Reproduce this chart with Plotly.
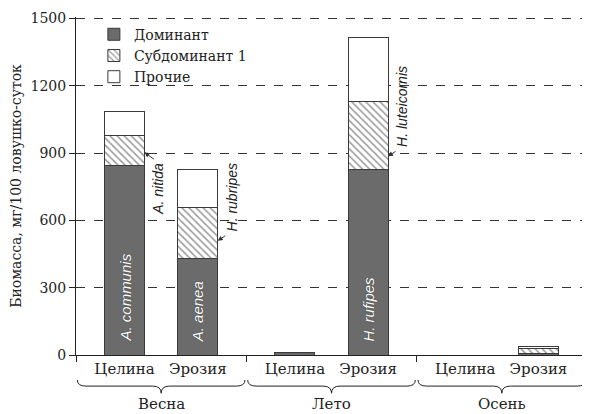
import plotly.graph_objects as go

# ---- data ----
seasons = ["Весна", "Лето", "Осень"]
sites = ["Целина", "Эрозия"]
dominant = [845, 430, 12, 828, 0, 8]
subdominant = [133, 227, 0, 300, 0, 22]
others = [107, 168, 0, 288, 0, 10]
dominant_species = ["A. communis", "A. aenea", "", "H. rufipes", "", ""]
subdominant_species = ["A. nitida", "H. rubripes", "", "H. luteicornis", "", ""]
subdominant_arrow_y = [903, 509, None, 885, None, None]
legend_names = ["Доминант", "Субдоминант 1", "Прочие"]
y_ticks = [0, 300, 600, 900, 1200, 1500]

# ---- style ----
SERIF = "DejaVu Serif, serif"
SANS = "Liberation Sans, Arial, sans-serif"
offsets = [0.285, 0.715]
bar_w = 0.234
edge = dict(color="#3a3a3a", width=1)
INK = "#222222"

xpos = [s + offsets[j] for s in range(len(seasons)) for j in range(len(sites))]
xlabels = [sites[j] for s in range(len(seasons)) for j in range(len(sites))]

fig = go.Figure()
fig.add_bar(x=xpos, y=dominant, width=bar_w, name=legend_names[0],
            marker=dict(color="#6b6b6b", line=edge))
fig.add_bar(x=xpos, y=subdominant, width=bar_w, name=legend_names[1],
            marker=dict(color="white", line=edge,
                        pattern=dict(shape="\\", fgcolor="#333333", bgcolor="white",
                                     size=5, solidity=0.3)))
fig.add_bar(x=xpos, y=others, width=bar_w, name=legend_names[2],
            marker=dict(color="white", line=edge))

# dominant species names inside bars
for i, name in enumerate(dominant_species):
    if name:
        fig.add_annotation(x=xpos[i], y=0, xref="x", yref="y", yanchor="bottom",
                           yshift=11, text=name, textangle=-90, showarrow=False,
                           font=dict(family=SANS, size=15, color="white", style="italic",
                                     shadow="0px 0px 1px #222222"))

# subdominant species names with arrows
for i, name in enumerate(subdominant_species):
    if not name:
        continue
    right = xpos[i] + bar_w / 2
    ya = subdominant_arrow_y[i]
    above = i != 0
    fig.add_annotation(x=right, y=ya, xref="x", yref="y", text="", showarrow=True,
                       ax=9 if above else 11, ay=-6 if above else 8,
                       arrowhead=2, arrowsize=1, arrowwidth=1, arrowcolor="#333333")
    fig.add_annotation(x=right, y=ya, xref="x", yref="y", xshift=14,
                       yshift=7 if above else -8,
                       yanchor="bottom" if above else "top",
                       text=name, textangle=-90, showarrow=False,
                       font=dict(family=SANS, size=14, color=INK, style="italic"))

# group braces and labels
r = 0.05
for g, season in enumerate(seasons):
    x0, x1, xc = g + 0.008, g + 0.992, g + 0.5
    yt, ym, yb = -0.074, -0.092, -0.113
    path = (f"M {x0},{yt} Q {x0},{ym} {x0 + r},{ym} L {xc - r},{ym} "
            f"Q {xc},{ym} {xc},{yb} Q {xc},{ym} {xc + r},{ym} "
            f"L {x1 - r},{ym} Q {x1},{ym} {x1},{yt}")
    fig.add_shape(type="path", path=path, xref="x", yref="paper",
                  line=dict(color=INK, width=1))
    fig.add_annotation(x=xc, y=-0.145, xref="x", yref="paper", text=season,
                       showarrow=False, yanchor="middle",
                       font=dict(family=SERIF, size=15, color=INK))

fig.update_layout(
    width=582, height=406,
    margin=dict(l=68, r=2, t=7, b=59),
    paper_bgcolor="white", plot_bgcolor="white",
    barmode="stack",
    font=dict(family=SERIF, size=14, color=INK),
    legend=dict(x=0.035, y=0.995, xanchor="left", yanchor="top",
                traceorder="normal", bgcolor="rgba(0,0,0,0)",
                font=dict(family=SERIF, size=14, color=INK),
                itemwidth=30, tracegroupgap=0),
    xaxis=dict(range=[0, 3], tickvals=xpos, ticktext=xlabels, ticks="",
               showgrid=False, zeroline=False, showline=True, linecolor=INK,
               linewidth=1, tickfont=dict(family=SERIF, size=15, color=INK),
               minor=dict(tickmode="linear", tick0=0, dtick=1, ticks="outside",
                          ticklen=6, tickcolor=INK, showgrid=False)),
    yaxis=dict(range=[0, 1506], tickvals=y_ticks, ticks="outside", ticklen=6,
               tickcolor=INK, showgrid=True, gridcolor="#333333",
               griddash="dash", gridwidth=1, zeroline=False, showline=True,
               linecolor=INK, linewidth=1, mirror=True, ticklabeloverflow="allow",
               tickfont=dict(family=SERIF, size=14, color=INK),
               title=dict(text="Биомасса, мг/100 ловушко-суток", standoff=6,
                          font=dict(family=SERIF, size=14, color=INK))),
)

fig.write_html("out.html")
